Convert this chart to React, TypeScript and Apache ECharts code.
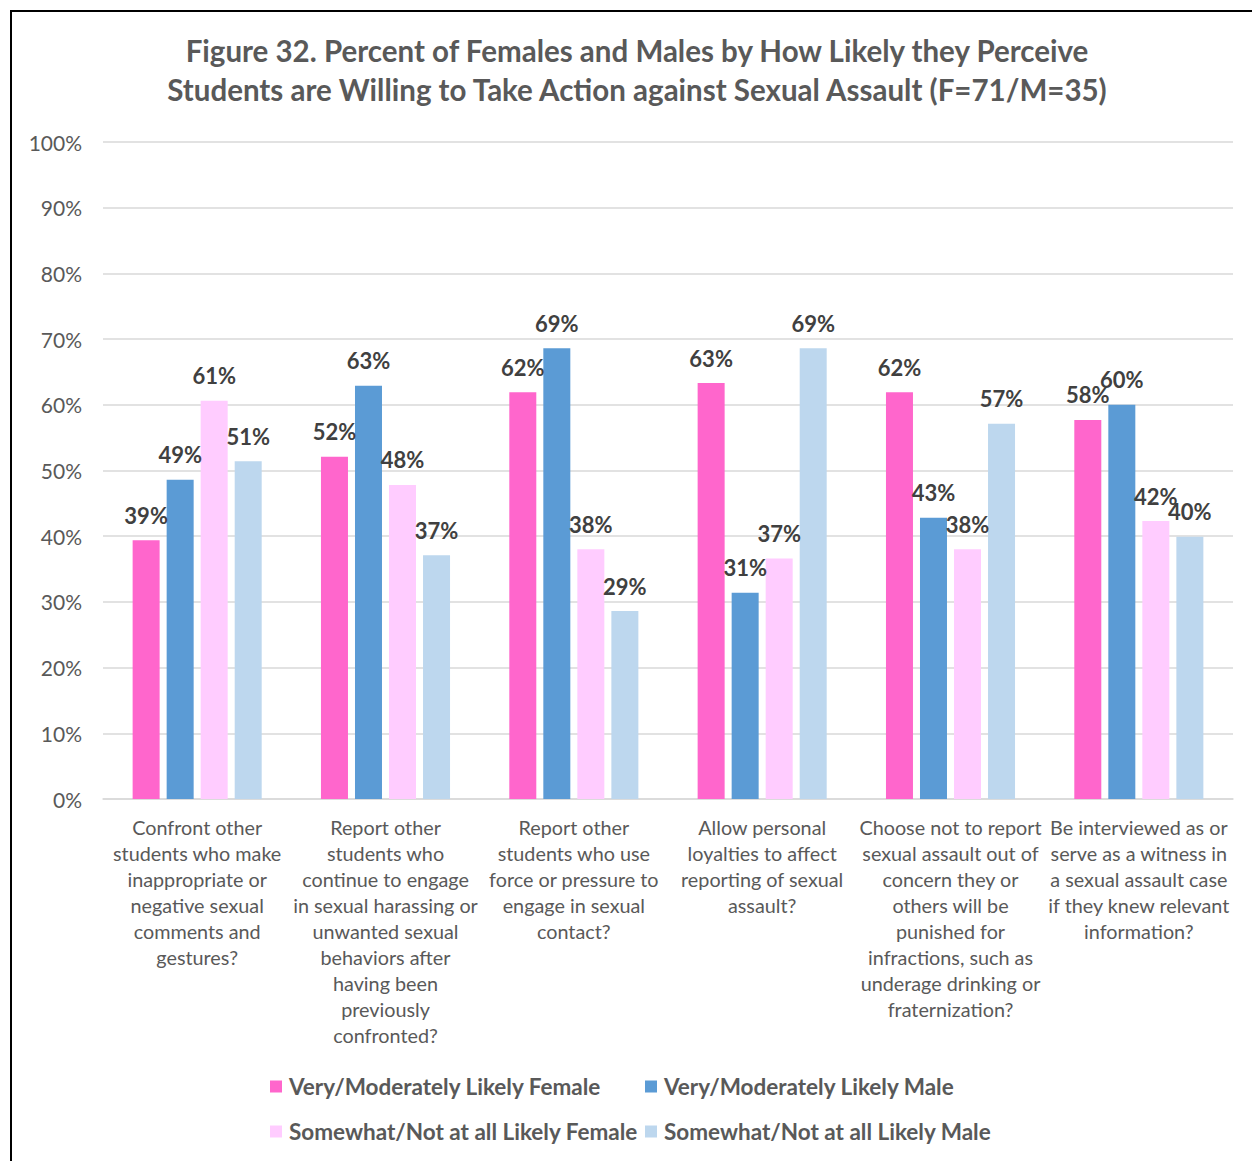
import React, { useEffect, useRef } from "react";
import * as echarts from "echarts";

const categories = [
  "Confront other\nstudents who make\ninappropriate or\nnegative sexual\ncomments and\ngestures?",
  "Report other\nstudents who\ncontinue to engage\nin sexual harassing or\nunwanted sexual\nbehaviors after\nhaving been\npreviously\nconfronted?",
  "Report other\nstudents who use\nforce or pressure to\nengage in sexual\ncontact?",
  "Allow personal\nloyalties to affect\nreporting of sexual\nassault?",
  "Choose not to report\nsexual assault out of\nconcern they or\nothers will be\npunished for\ninfractions, such as\nunderage drinking or\nfraternization?",
  "Be interviewed as or\nserve as a witness in\na sexual assault case\nif they knew relevant\ninformation?",
];

const seriesNames = [
  "Very/Moderately Likely Female",
  "Very/Moderately Likely Male",
  "Somewhat/Not at all Likely Female",
  "Somewhat/Not at all Likely Male",
];

const veryFemale = [39.4, 52.1, 61.9, 63.3, 61.9, 57.7];
const veryMale = [48.6, 62.9, 68.6, 31.4, 42.8, 60.0];
const somewhatFemale = [60.6, 47.8, 38.0, 36.6, 38.0, 42.3];
const somewhatMale = [51.4, 37.1, 28.6, 68.6, 57.1, 39.9];

const colors = ["#FF66CC", "#5B9BD5", "#FFCCFF", "#BDD7EE"];

const titleLines = [
  "Figure 32. Percent of Females and Males by How Likely they Perceive",
  "Students are Willing to Take Action against Sexual Assault (F=71/M=35)",
];

const FONT = "Lato, 'Open Sans', sans-serif";

export default function App() {
  const ref = useRef<HTMLDivElement>(null);
  useEffect(() => {
    if (!ref.current) return;
    const chart = echarts.init(ref.current, undefined, { renderer: "svg" });
    const allData = [veryFemale, veryMale, somewhatFemale, somewhatMale];
    const legendPos = [
      { left: 270, top: 1075 },
      { left: 645, top: 1075 },
      { left: 270, top: 1120 },
      { left: 645, top: 1120 },
    ];
    chart.setOption({
      animation: false,
      backgroundColor: "#ffffff",
      textStyle: { fontFamily: FONT },
      graphic: [
        {
          type: "rect",
          shape: { x: 11, y: 11, width: 1270, height: 1200 },
          style: { fill: "none", stroke: "#000000", lineWidth: 2 },
          silent: true,
        },
        {
          type: "text",
          x: 637,
          y: 70,
          style: {
            text: titleLines.join("\n"),
            align: "center",
            verticalAlign: "middle",
            fontFamily: FONT,
            fontWeight: "bold",
            fontSize: 29.5,
            lineHeight: 39,
            fill: "#595959",
          },
        },
      ],
      legend: seriesNames.map((name, i) => ({
        data: [name],
        left: legendPos[i].left,
        top: legendPos[i].top,
        padding: 0,
        itemWidth: 12,
        itemHeight: 12,
        icon: "rect",
        itemGap: 0,
        selectedMode: false,
        textStyle: {
          fontFamily: FONT,
          fontWeight: "bold",
          fontSize: 22.5,
          color: "#595959",
          padding: [0, 0, 0, 2],
        },
      })),
      grid: { left: 103, right: 19, top: 142, bottom: 362, containLabel: false },
      xAxis: {
        type: "category",
        data: categories,
        axisLine: { show: true, lineStyle: { color: "#D9D9D9", width: 1.5 } },
        axisTick: { show: false },
        axisLabel: {
          interval: 0,
          fontFamily: FONT,
          fontSize: 19.8,
          lineHeight: 26,
          color: "#595959",
          margin: 15,
          align: "center",
        },
      },
      yAxis: {
        type: "value",
        min: 0,
        max: 100,
        interval: 10,
        axisLine: { show: false },
        axisTick: { show: false },
        splitLine: { lineStyle: { color: "#D9D9D9", width: 1.5 } },
        axisLabel: {
          formatter: (v: number) => v + "%",
          fontFamily: FONT,
          fontSize: 21,
          color: "#595959",
          margin: 21,
        },
      },
      series: seriesNames.map((name, i) => ({
        name,
        type: "bar",
        data: allData[i],
        barWidth: 27,
        barGap: "26%",
        itemStyle: { color: colors[i] },
        label: {
          show: true,
          position: "top",
          distance: 14,
          formatter: (p: any) => Math.round(p.value) + "%",
          fontFamily: FONT,
          fontWeight: "bold",
          fontSize: 22,
          color: "#404040",
        },
      })),
    });
    return () => chart.dispose();
  }, []);
  return (
    <div
      ref={ref}
      style={{ position: "absolute", left: 0, top: 0, width: 1252, height: 1161 }}
    />
  );
}
